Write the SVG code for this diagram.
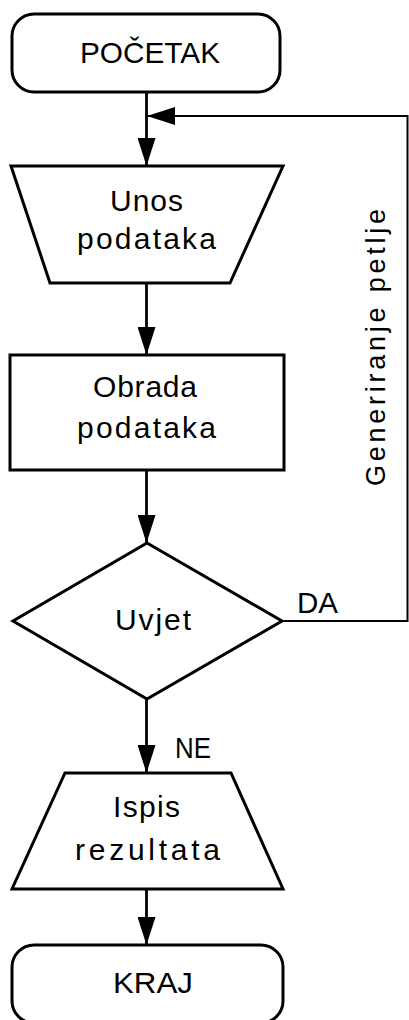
<svg xmlns="http://www.w3.org/2000/svg" width="409" height="1020" viewBox="0 0 409 1020">
  <defs>
    <marker id="arrow" viewBox="0 0 28 18" refX="28" refY="9" markerWidth="28" markerHeight="18" markerUnits="userSpaceOnUse" orient="auto">
      <path d="M0,0 L28,9 L0,18 Z" fill="#000"/>
    </marker>
  </defs>
  <style>
    .shape { fill: #fff; stroke: #000; stroke-width: 3; stroke-linejoin: miter; }
    .flow { fill: none; stroke: #000; stroke-width: 2.8; }
    .loop { fill: none; stroke: #000; stroke-width: 2; }
    text { font-family: "Liberation Sans", Arial, sans-serif; font-size: 30px; fill: #000; text-anchor: middle; }
    .lbl { text-anchor: start; }
  </style>
  <rect width="409" height="1020" fill="#fff"/>

  <!-- connectors -->
  <g id="connectors">
    <line class="flow" x1="146.5" y1="92" x2="146.5" y2="166" marker-end="url(#arrow)"/>
    <polyline class="loop" points="282,621 407.5,621 407.5,116 147,116" marker-end="url(#arrow)"/>
    <line class="flow" x1="146.5" y1="283" x2="146.5" y2="355" marker-end="url(#arrow)"/>
    <line class="flow" x1="146.5" y1="470" x2="146.5" y2="543" marker-end="url(#arrow)"/>
    <line class="flow" x1="146.5" y1="699" x2="146.5" y2="773" marker-end="url(#arrow)"/>
    <line class="flow" x1="146.5" y1="889" x2="146.5" y2="945" marker-end="url(#arrow)"/>
    <text class="lbl" x="297" y="613" textLength="41" lengthAdjust="spacingAndGlyphs">DA</text>
    <text class="lbl" x="175" y="758" textLength="36" lengthAdjust="spacingAndGlyphs">NE</text>
    <text x="0" y="0" transform="translate(385,347.5) rotate(-90)" style="font-size:27px" textLength="277">Generiranje petlje</text>
  </g>

  <!-- start -->
  <g id="start">
    <rect class="shape" x="12" y="14" width="268" height="78" rx="22" ry="22"/>
    <text x="150" y="63" textLength="140" lengthAdjust="spacingAndGlyphs">POČETAK</text>
  </g>

  <!-- input -->
  <g id="input">
    <polygon class="shape" points="11,166 283,166 230,283 50,283"/>
    <text x="146.5" y="211" textLength="73">Unos</text>
    <text x="146.5" y="249" textLength="139">podataka</text>
  </g>

  <!-- process -->
  <g id="process">
    <rect class="shape" x="10" y="355" width="274" height="115"/>
    <text x="145" y="397" textLength="104">Obrada</text>
    <text x="146.5" y="438" textLength="139">podataka</text>
  </g>

  <!-- decision -->
  <g id="decision">
    <polygon class="shape" points="147,543 282,621 147,699 13,621"/>
    <text x="153" y="630" textLength="76">Uvjet</text>
  </g>

  <!-- output -->
  <g id="output">
    <polygon class="shape" points="65,773 231,773 283,889 12,889"/>
    <text x="146.5" y="817" textLength="67">Ispis</text>
    <text x="147.5" y="860" textLength="145">rezultata</text>
  </g>

  <!-- end -->
  <g id="end">
    <rect class="shape" x="12" y="945" width="271" height="78" rx="22" ry="22"/>
    <text x="153" y="993" textLength="80" lengthAdjust="spacingAndGlyphs">KRAJ</text>
  </g>
</svg>
